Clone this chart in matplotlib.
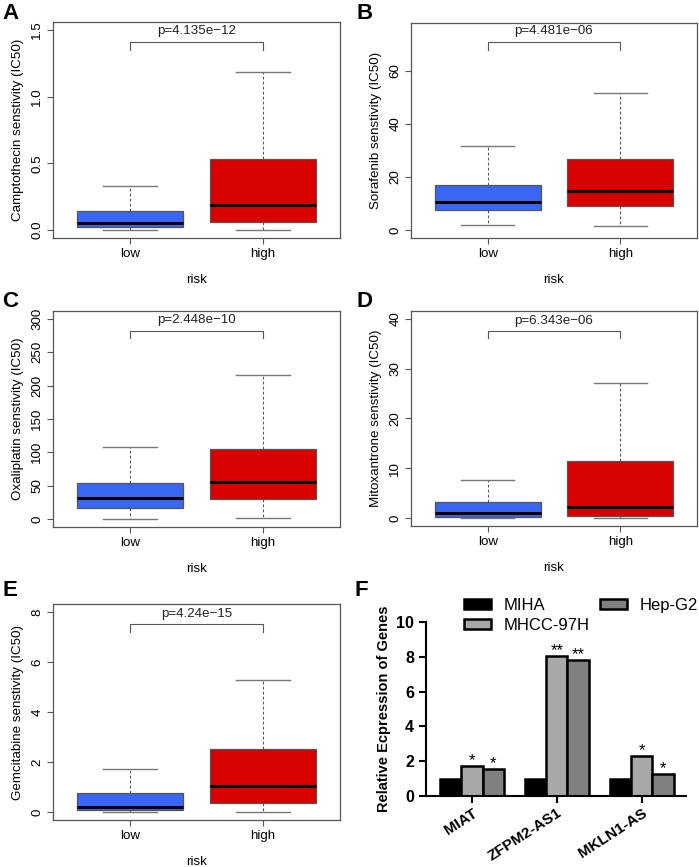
import numpy as np
import matplotlib
matplotlib.use('Agg')
import matplotlib.pyplot as plt
from matplotlib.patches import Patch

plt.rcParams['font.family'] = ['Liberation Sans', 'DejaVu Sans']

W, H = 699, 867

# box stats per panel: (whislo, q1, med, q3, whishi) for low / high risk
groups = ['low', 'high']
drugs = ['Camptothecin', 'Sorafenib', 'Oxaliplatin', 'Mitoxantrone', 'Gemcitabine']
pvals = ['p=4.135e\u221212', 'p=4.481e\u221206', 'p=2.448e\u221210', 'p=6.343e\u221206', 'p=4.24e\u221215']
low_stats = [
    [0.0, 0.02, 0.05, 0.145, 0.33],
    [2.0, 7.5, 10.5, 17.0, 31.5],
    [0.5, 17.0, 31.0, 54.0, 108.0],
    [0.0, 0.2, 1.0, 3.2, 7.6],
    [0.0, 0.08, 0.22, 0.78, 1.73],
]
high_stats = [
    [0.0, 0.06, 0.185, 0.535, 1.185],
    [1.5, 9.2, 14.8, 26.8, 51.5],
    [2.0, 30.0, 56.0, 105.0, 216.0],
    [0.0, 0.5, 2.3, 11.4, 27.2],
    [0.0, 0.38, 1.03, 2.52, 5.3],
]
yticks = [
    [0.0, 0.5, 1.0, 1.5],
    [0, 20, 40, 60],
    [0, 50, 100, 150, 200, 250, 300],
    [0, 10, 20, 30, 40],
    [0, 2, 4, 6, 8],
]
ylims = [(-0.06, 1.56), (-3.0, 78.0), (-12, 312), (-1.6, 41.6), (-0.32, 8.32)]
bracket = [(1.35, 1.41), (68, 71), (271, 282), (36.1, 37.5), (7.2, 7.52)]
ptext_y = [1.49, 75.0, 298, 39.5, 7.9]
tick_fmt = ['%.1f', '%d', '%d', '%d', '%d']

# panel F
genes = ['MIAT', 'ZFPM2-AS1', 'MKLN1-AS']
cells = ['MIHA', 'MHCC-97H', 'Hep-G2']
expr = {
    'MIHA': [1.0, 1.0, 1.0],
    'MHCC-97H': [1.7, 8.05, 2.3],
    'Hep-G2': [1.55, 7.8, 1.25],
}
stars = {
    'MHCC-97H': ['*', '**', '*'],
    'Hep-G2': ['*', '**', '*'],
}

# pixel boxes (left, top, right, bottom)
boxes_px = [
    (53, 22, 340, 238),
    (411, 23, 697, 238),
    (53, 311, 340, 527),
    (411, 311, 697, 526),
    (53, 604, 340, 820),
]
letters = [('A', 2, 3), ('B', 356, 3), ('C', 2, 291), ('D', 356, 291), ('E', 2, 580), ('F', 354, 580)]


def px_axes(fig, l, t, r, b):
    return fig.add_axes([l / W, 1 - b / H, (r - l) / W, (b - t) / H])


fig = plt.figure(figsize=(W / 100, H / 100), dpi=100)
fs = 9.6
blue = '#3a66f4'
red = '#d90000'
gray = '#555555'

for i in range(5):
    ax = px_axes(fig, *boxes_px[i])
    stats = []
    for s, lab in zip([low_stats[i], high_stats[i]], groups):
        stats.append(dict(whislo=s[0], q1=s[1], med=s[2], q3=s[3], whishi=s[4], label=lab))
    bp = ax.bxp(stats, positions=[1, 2], widths=0.8, patch_artist=True, showfliers=False,
                boxprops=dict(edgecolor=gray, linewidth=0.9),
                whiskerprops=dict(color=gray, linestyle=(0, (2.5, 2)), linewidth=0.8),
                capprops=dict(color='#777777', linewidth=1.0),
                medianprops=dict(color='black', linewidth=2.2))
    for patch, col in zip(bp['boxes'], [blue, red]):
        patch.set_facecolor(col)
    for cap in bp['caps']:
        c = cap.get_xdata().mean()
        cap.set_xdata([c - 0.2, c + 0.2])
    ax.set_xlim(0.42, 2.58)
    ax.set_ylim(*ylims[i])
    ax.set_yticks(yticks[i])
    ax.set_yticklabels([tick_fmt[i] % v for v in yticks[i]], rotation=90, va='center')
    ax.set_xticks([1, 2])
    ax.set_xticklabels(groups)
    ax.tick_params(labelsize=fs, length=4, color=gray, width=0.8, pad=3)
    for sp in ax.spines.values():
        sp.set_color(gray)
        sp.set_linewidth(0.9)
    ax.set_ylabel(drugs[i] + ' senstivity (IC50)', fontsize=fs, labelpad=5)
    ax.set_xlabel('risk', fontsize=fs, labelpad=10)
    lo, hi = bracket[i]
    ax.plot([1, 1, 2, 2], [lo, hi, hi, lo], color=gray, linewidth=0.8)
    ax.text(1.5, ptext_y[i], pvals[i], ha='center', va='center', fontsize=fs, color='#222222')

# panel F bar chart
axf = px_axes(fig, 426, 622, 686, 796)
x = np.arange(len(genes))
bw = 0.25
colors = {'MIHA': 'black', 'MHCC-97H': '#a8a8a8', 'Hep-G2': '#808080'}
offs = {'MIHA': -bw, 'MHCC-97H': 0.0, 'Hep-G2': bw}
for c in cells:
    axf.bar(x + offs[c], expr[c], width=bw, color=colors[c], edgecolor='black',
            linewidth=1.8, label=c)
    if c in stars:
        for xi, v, st in zip(x, expr[c], stars[c]):
            axf.text(xi + offs[c], v - 0.1, st, ha='center', va='bottom', fontsize=12)
axf.set_xlim(-0.54, 2.52)
axf.set_ylim(0, 10)
axf.set_yticks([0, 2, 4, 6, 8, 10])
axf.set_xticks(x)
axf.set_xticklabels(genes, rotation=33, ha='right', rotation_mode='anchor',
                    fontsize=11, fontweight='bold')
for lab in axf.get_yticklabels():
    lab.set_fontweight('bold')
axf.tick_params(axis='y', labelsize=11.5, width=1.5, length=5)
axf.tick_params(axis='x', width=1.5, length=5, pad=2)
axf.spines['top'].set_visible(False)
axf.spines['right'].set_visible(False)
axf.spines['left'].set_linewidth(1.5)
axf.spines['bottom'].set_linewidth(1.5)
axf.set_ylabel('Relative Ecpression of Genes', fontsize=10.5, fontweight='bold', labelpad=4)
handles = [Patch(facecolor=colors[c], edgecolor='black', linewidth=1.8) for c in cells]
axf.legend(handles, cells, ncol=2, frameon=False, fontsize=12, loc='lower left',
           bbox_to_anchor=(0.12, 0.9), handlelength=1.6, handleheight=0.55,
           columnspacing=0.6, labelspacing=0.3, handletextpad=0.8, borderaxespad=0)

for lt, lx, ly in letters:
    fig.text(lx / W, 1 - ly / H, lt, fontsize=16, fontweight='bold', va='top', ha='left')

fig.savefig('out.png', dpi=100)
